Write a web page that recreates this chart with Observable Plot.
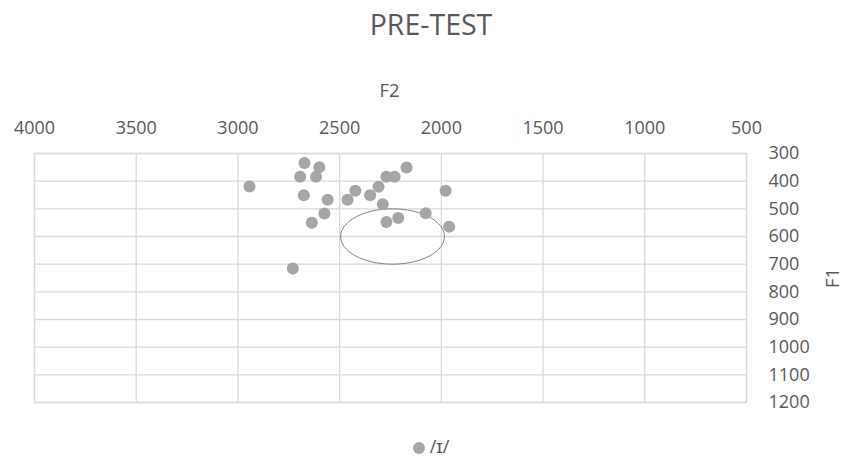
<!DOCTYPE html>
<html>
<head>
<meta charset="utf-8">
<script src="https://cdn.jsdelivr.net/npm/d3@7"></script>
<script src="https://cdn.jsdelivr.net/npm/@observablehq/plot@0.6"></script>
<style>
  html, body { margin: 0; padding: 0; background: #fff; }
  body { width: 844px; height: 458px; position: relative; overflow: hidden; font-family: "Open Sans", sans-serif; color: #595959; }
  #title { position: absolute; left: 0; width: 844px; top: 4px; text-align: center; font-size: 28.5px; line-height: 40px; padding-left: 18px; box-sizing: border-box; }
  #legend { position: absolute; left: 0; width: 844px; top: 434px; text-align: center; font-size: 18px; line-height: 24px; padding-left: 18px; box-sizing: border-box; }
  #legend .sw { display: inline-block; width: 12px; height: 12px; border-radius: 50%; background: #a5a5a5; margin-right: 5px; vertical-align: -1px; }
  #chart { position: absolute; left: 0; top: 0; }
</style>
</head>
<body>
<div id="chart"></div>
<div id="title">PRE-TEST</div>
<div id="legend"><span class="sw"></span>/ɪ/</div>
<script>
// Data
const f2 = [2943, 2673, 2600, 2694, 2616, 2676, 2559, 2575, 2637, 2730, 2461, 2423, 2350, 2309, 2270, 2230, 2171, 2288, 2270, 2212, 2077, 1979, 1962];
const f1 = [419, 334, 350, 384, 384, 451, 467, 517, 550, 716, 467, 435, 451, 420, 384, 384, 351, 483, 548, 533, 516, 435, 565];
const xTicks = [4000, 3500, 3000, 2500, 2000, 1500, 1000, 500];
const yTicks = [300, 400, 500, 600, 700, 800, 900, 1000, 1100, 1200];
// Ellipse annotation (center and radii in data units)
const ellipseCenter = [2240, 600];
const ellipseRadii = [255, 100];

const points = f2.map((x, i) => ({F2: x, F1: f1[i]}));
const ellipsePts = d3.range(0, 121).map(i => {
  const t = (i / 120) * 2 * Math.PI;
  return {F2: ellipseCenter[0] + ellipseRadii[0] * Math.cos(t), F1: ellipseCenter[1] + ellipseRadii[1] * Math.sin(t)};
});

const grid = "#d9d9d9";
const txt = "#595959";

const chart = Plot.plot({
  width: 844,
  height: 458,
  marginLeft: 34,
  marginRight: 98,
  marginTop: 153,
  marginBottom: 56,
  style: {fontFamily: "'Open Sans', sans-serif", fontSize: "18px", color: txt, background: "transparent"},
  x: {domain: [4000, 500], ticks: xTicks, label: null},
  y: {domain: [300, 1200], reverse: true, ticks: yTicks, label: null},
  marks: [
    Plot.gridX(xTicks, {stroke: grid, strokeOpacity: 1, strokeWidth: 1.3}),
    Plot.gridY(yTicks, {stroke: grid, strokeOpacity: 1, strokeWidth: 1.3}),
    Plot.frame({stroke: grid, strokeWidth: 1.3}),
    Plot.axisX(xTicks, {anchor: "top", tickSize: 0, tickPadding: 20, fill: txt, fontSize: 18, label: null, tickFormat: d => String(d)}),
    Plot.axisY(yTicks, {anchor: "right", tickSize: 0, tickPadding: 22, fill: txt, fontSize: 18, label: null, tickFormat: d => String(d)}),
    Plot.text(["F2"], {frameAnchor: "top", dy: -62, dx: -1, lineAnchor: "middle", fill: txt, fontSize: 18.5}),
    Plot.text(["F1"], {frameAnchor: "right", dx: 87, rotate: -90, lineAnchor: "middle", textAnchor: "middle", fill: txt, fontSize: 18.5}),
    Plot.line(ellipsePts, {x: "F2", y: "F1", stroke: "#7f7f7f", strokeWidth: 1}),
    Plot.dot(points, {x: "F2", y: "F1", r: 6, fill: "#a5a5a5", stroke: "none"})
  ]
});
document.getElementById("chart").appendChild(chart);
</script>
</body>
</html>
